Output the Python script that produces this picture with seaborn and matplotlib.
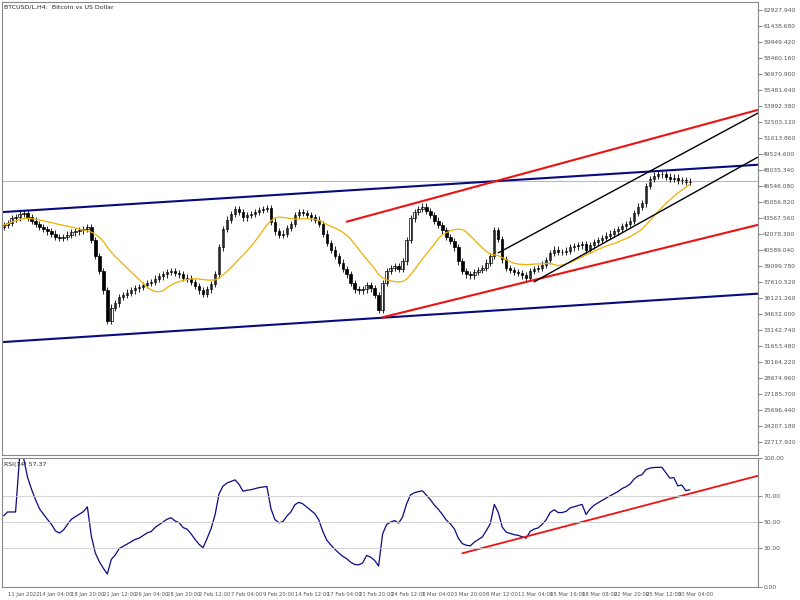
import numpy as np
import pandas as pd
import matplotlib
matplotlib.use("Agg")
import matplotlib.pyplot as plt
import seaborn as sns

sns.set_style("white")
plt.rcParams['font.family'] = ['DejaVu Sans']

# closes in thousands USD, one candle per 8 hours (approx.)
close_k = [42.9,43.1,43.5,43.6,43.9,44.0,43.6,43.3,
 43.0,42.7,42.5,42.3,42.1,41.8,41.7,
 41.8,42.0,42.2,42.3,42.4,42.5,42.7,
 41.5,40.0,38.6,36.8,34.0,
 35.2,35.6,36.2,36.4,36.6,36.8,
 37.0,37.1,37.3,37.5,37.6,37.9,38.1,38.3,
 38.5,38.6,38.4,38.3,38.0,37.9,
 37.6,37.2,36.8,36.5,36.9,37.4,
 38.3,40.8,42.5,43.4,43.9,44.4,44.1,
 43.6,43.8,43.9,44.1,44.3,44.4,44.5,
 43.2,42.3,42.0,42.1,42.6,43.0,43.8,44.1,
 44.0,43.8,43.6,43.4,43.0,42.1,41.2,
 40.6,40.0,39.4,38.8,38.3,37.5,36.9,36.8,
 36.9,37.3,37.0,36.4,35.0,37.5,38.6,
 38.9,39.1,38.8,39.5,41.5,43.5,44.1,44.4,
 44.6,44.2,43.8,43.3,42.9,42.4,41.8,
 41.4,40.8,39.5,38.6,38.3,38.2,38.5,38.7,
 38.9,39.4,40.0,42.4,41.6,39.7,38.9,
 38.7,38.5,38.4,38.2,38.0,38.6,38.8,38.9,
 39.2,39.6,40.3,40.6,40.4,40.4,40.5,
 40.8,40.9,41.0,41.1,40.6,41.0,41.3,41.5,
 41.7,41.9,42.1,42.3,42.5,42.8,43.0,
 43.3,44.0,44.6,44.9,46.5,47.2,47.5,47.6,
 47.6,47.4,47.2,47.3,47.0,47.1,46.9,47.0]

price_ticks = [62927.940,61438.680,59949.420,58460.160,56970.900,55481.640,53992.380,
 52503.120,51013.860,49524.600,48035.340,46546.080,45056.820,43567.560,42078.300,
 40589.040,39099.780,37610.520,36121.260,34632.000,33142.740,31653.480,30164.220,
 28674.960,27185.700,25696.440,24207.180,22717.920]

date_labels = ["11 Jan 2022","14 Jan 04:00","18 Jan 20:00","21 Jan 12:00","26 Jan 04:00",
 "28 Jan 20:00","2 Feb 12:00","7 Feb 04:00","9 Feb 20:00","14 Feb 12:00","17 Feb 04:00",
 "21 Feb 20:00","24 Feb 12:00","1 Mar 04:00","3 Mar 20:00","8 Mar 12:00","11 Mar 04:00",
 "15 Mar 16:00","18 Mar 08:00","22 Mar 20:00","25 Mar 12:00","30 Mar 04:00"]

# trend lines: (bar0, price0, bar1, price1)
blue_lines = [(0, 44100, 189, 48500), (0, 32000, 189, 36500)]
red_lines = [(86, 43200, 189, 53600), (95, 34300, 189, 42900)]
black_lines = [(124, 40300, 189, 53300), (133, 37600, 189, 49200)]
rsi_line = (115, 26, 189, 86)
last_price = 47000

close = np.array(close_k) * 1000
opn = np.concatenate([[close[0] - 200], close[:-1]])
n = len(close)
idx = np.arange(n)
hi = np.maximum(opn, close) + 300
lo = np.minimum(opn, close) - 300
df = pd.DataFrame({"bar": idx, "close": close})
df["ma"] = df["close"].rolling(15, min_periods=1).mean()
d = df["close"].diff()
up = d.clip(lower=0).ewm(alpha=1/12, adjust=False).mean()
dn = (-d.clip(upper=0)).ewm(alpha=1/12, adjust=False).mean()
df["rsi"] = 100 - 100 / (1 + up / dn.replace(0, 1e-9))
df.loc[0, "rsi"] = 55
df.loc[1:3, "rsi"] = 58

fig = plt.figure(figsize=(8, 6), dpi=100)
ax = fig.add_axes([0.002, 0.242, 0.945, 0.755])
ax2 = fig.add_axes([0.002, 0.022, 0.945, 0.215])
xmax = 189
for a in (ax, ax2):
    a.set_xlim(-0.5, xmax)
    for s in a.spines.values():
        s.set_color("#888888"); s.set_linewidth(0.8)
    a.yaxis.tick_right()
    a.tick_params(axis="both", labelsize=4.3, length=3, width=0.5, colors="#555555", pad=1)

ax.set_ylim(21500, 63670)
ax.set_yticks(price_ticks)
ax.set_yticklabels([f"{t:.3f}" for t in price_ticks])
ax.set_xticks([])
ax.axhline(last_price, color="#bbbbbb", lw=0.8)

ax.vlines(idx, lo, hi, color="black", lw=0.6)
bull = close >= opn
ax.bar(idx[bull], (close - opn)[bull], bottom=opn[bull], width=0.6, color="white", edgecolor="black", lw=0.5)
ax.bar(idx[~bull], (opn - close)[~bull], bottom=close[~bull], width=0.6, color="black", edgecolor="black", lw=0.5)
sns.lineplot(data=df, x="bar", y="ma", ax=ax, color="#f0b000", lw=0.9)

for lines, col, lw in ((blue_lines, "#0a0a80", 1.5), (red_lines, "#ee1111", 1.5), (black_lines, "black", 1.0)):
    for b0, p0, b1, p1 in lines:
        ax.plot([b0, b1], [p0, p1], color=col, lw=lw)
ax.set_xlabel(""); ax.set_ylabel("")
ax.text(0.003, 0.993, "BTCUSD/L,H4:  Bitcoin vs US Dollar", transform=ax.transAxes, fontsize=4.5, va="top")

sns.lineplot(data=df, x="bar", y="rsi", ax=ax2, color="#0a0a80", lw=0.9)
ax2.plot([rsi_line[0], rsi_line[2]], [rsi_line[1], rsi_line[3]], color="#ee1111", lw=1.3)
ax2.set_ylim(0, 100)
ax2.set_yticks([0, 30, 50, 70, 100])
ax2.set_yticklabels(["0.00", "30.00", "50.00", "70.00", "100.00"])
for v in (30, 50, 70):
    ax2.axhline(v, color="#cccccc", lw=0.6)
ax2.set_xticks(np.arange(len(date_labels)) * 8 + 1)
ax2.set_xticklabels(date_labels, ha="left", fontsize=3.8)
ax2.set_xlabel(""); ax2.set_ylabel("")
ax2.text(0.003, 0.97, "RSI(14) 57.37", transform=ax2.transAxes, fontsize=4.5, va="top")

fig.savefig("out.png", dpi=100)
